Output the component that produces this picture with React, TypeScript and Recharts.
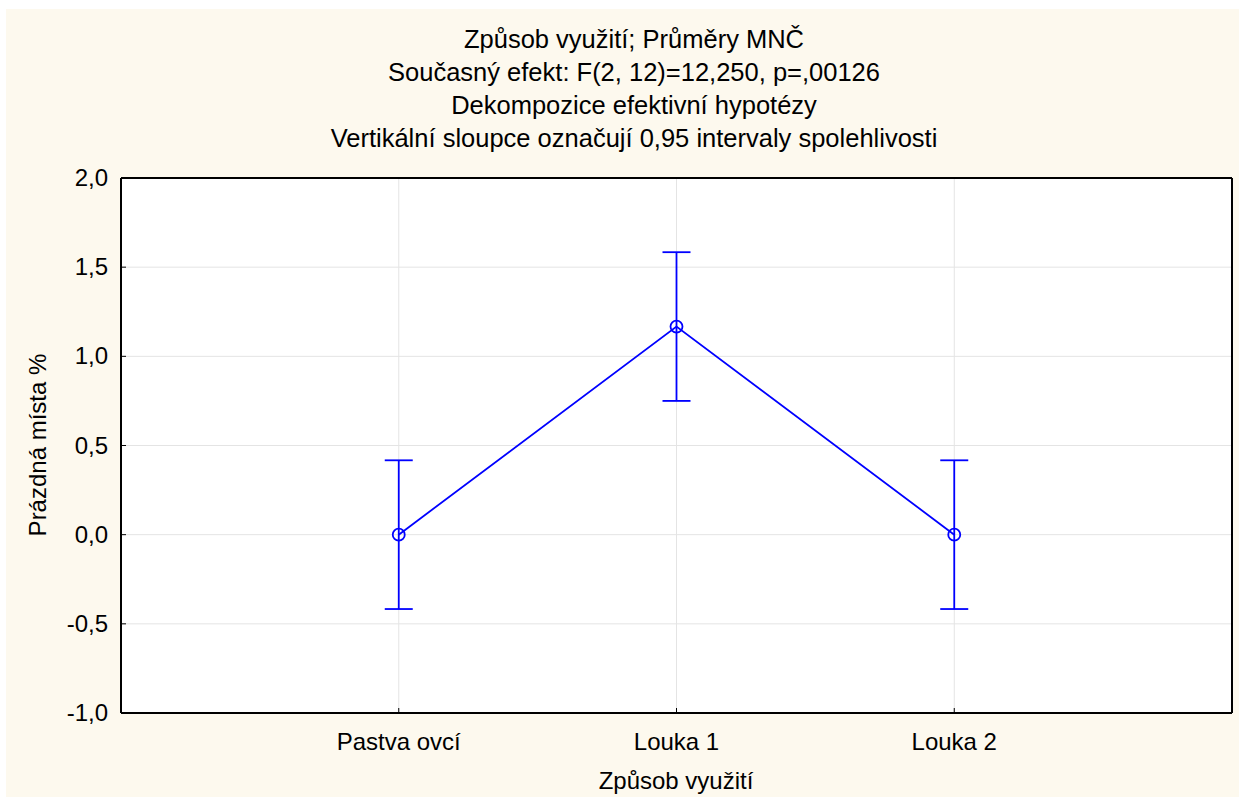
import React from 'react';
import { ComposedChart, Line, XAxis, YAxis, CartesianGrid, ErrorBar, ReferenceLine } from 'recharts';

const categories = ['Pastva ovcí', 'Louka 1', 'Louka 2'];
const means = [0.0, 1.167, 0.0];
const ciHalf = [0.417, 0.417, 0.417];
const yTicks = [-1, -0.5, 0, 0.5, 1, 1.5, 2];
const xTicks = [1, 2, 3];
const titleLines = [
  'Způsob využití; Průměry MNČ',
  'Současný efekt: F(2, 12)=12,250, p=,00126',
  'Dekompozice efektivní hypotézy',
  'Vertikální sloupce označují 0,95 intervaly spolehlivosti',
];

const data = categories.map((name, i) => ({
  pos: i + 1,
  name,
  mean: means[i],
  err: ciHalf[i],
}));

const FONT = '"Liberation Sans", Arial, sans-serif';
const fmt = (v: number) => v.toFixed(1).replace('.', ',');

// ticks are drawn inward, like the original
const YTick = (props: any) => {
  const { x, y, payload } = props;
  return (
    <g>
      <line x1={x} y1={y} x2={x + 5} y2={y} stroke="#000" />
      <text x={x - 13} y={y} dy={8} textAnchor="end" fontSize={24} fontFamily={FONT} fill="#000">
        {fmt(payload.value)}
      </text>
    </g>
  );
};

const XTick = (props: any) => {
  const { x, y, payload } = props;
  return (
    <g>
      <line x1={x} y1={y} x2={x} y2={y - 5} stroke="#000" />
      <text x={x} y={y + 37} textAnchor="middle" fontSize={24} fontFamily={FONT} fill="#000">
        {categories[payload.value - 1]}
      </text>
    </g>
  );
};

export default function App() {
  return (
    <div style={{ position: 'absolute', left: 0, top: 0, width: 1245, height: 803, background: '#fff' }}>
      <div style={{ position: 'absolute', left: 6, top: 9, width: 1233, height: 788, background: '#FDF9EE' }} />
      <div style={{ position: 'absolute', left: 0, top: 23, width: 1268, fontFamily: FONT, fontSize: 25.5, textAlign: 'center', color: '#000' }}>
        {titleLines.map((t) => (
          <div key={t} style={{ height: 33, lineHeight: '33px' }}>{t}</div>
        ))}
      </div>
      <div style={{ position: 'absolute', left: 0, top: 0 }}>
        <ComposedChart width={1245} height={803} data={data} margin={{ top: 178, right: 13, bottom: 30, left: 51 }}>
          <CartesianGrid stroke="#e4e4e4" fill="#fff" horizontalValues={yTicks} verticalValues={xTicks} />
          <XAxis
            dataKey="pos"
            type="number"
            domain={[0, 4]}
            ticks={xTicks}
            height={60}
            tickSize={0}
            tickMargin={0}
            tickLine={false}
            axisLine={{ stroke: '#000', strokeWidth: 2 }}
            tick={XTick}
            interval={0}
          />
          <YAxis
            type="number"
            domain={[-1, 2]}
            ticks={yTicks}
            width={70}
            tickSize={0}
            tickMargin={0}
            tickLine={false}
            axisLine={{ stroke: '#000', strokeWidth: 2 }}
            tick={YTick}
            interval={0}
          />
          <ReferenceLine y={2} stroke="#000" strokeWidth={2} />
          <ReferenceLine x={4} stroke="#000" strokeWidth={2} />
          <Line
            dataKey="mean"
            stroke="#0000ff"
            strokeWidth={1.8}
            dot={{ r: 6, stroke: '#0000ff', strokeWidth: 1.8, fill: 'none' }}
            isAnimationActive={false}
          >
            <ErrorBar dataKey="err" direction="y" width={14} stroke="#0000ff" strokeWidth={1.8} isAnimationActive={false} />
          </Line>
        </ComposedChart>
      </div>
      <div style={{ position: 'absolute', left: 121, top: 764, width: 1110, lineHeight: '33px', textAlign: 'center', fontFamily: FONT, fontSize: 24 }}>
        Způsob využití
      </div>
      <div
        style={{
          position: 'absolute',
          left: 38,
          top: 445,
          transform: 'translate(-50%, -50%) rotate(-90deg)',
          whiteSpace: 'nowrap',
          fontFamily: FONT,
          fontSize: 24,
        }}
      >
        Prázdná místa %
      </div>
    </div>
  );
}
